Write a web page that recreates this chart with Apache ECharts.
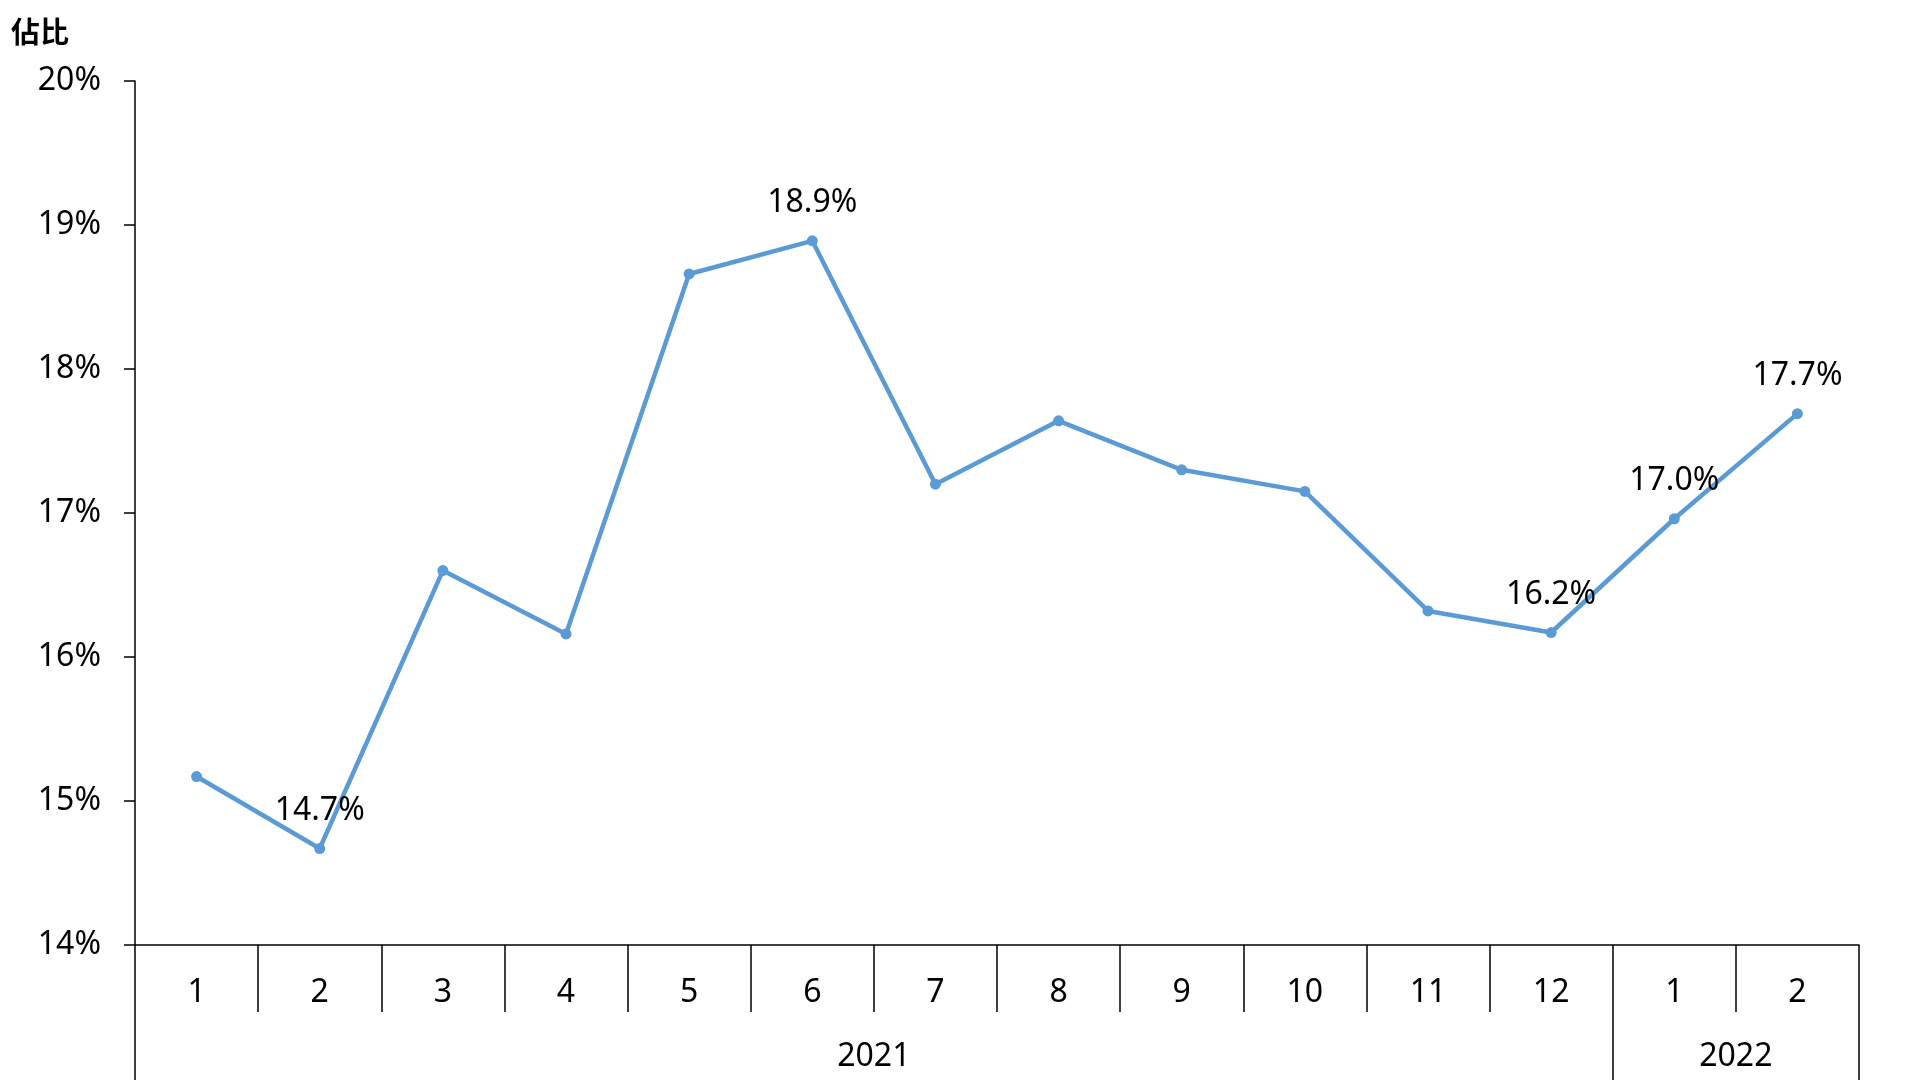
<!DOCTYPE html>
<html>
<head>
<meta charset="utf-8">
<script src="https://cdn.jsdelivr.net/npm/echarts@6/dist/echarts.min.js"></script>
<style>html,body{margin:0;padding:0;background:#fff}#c{width:1920px;height:1080px}</style>
</head>
<body>
<div id="c"></div>
<script>
var months = ['1','2','3','4','5','6','7','8','9','10','11','12','1','2'];
var values = [15.17, 14.67, 16.60, 16.16, 18.66, 18.89, 17.20, 17.64, 17.30, 17.15, 16.32, 16.17, 16.96, 17.69];
var labeledIdx = [1, 5, 11, 12, 13];
var years = ['2021', '2022'];
var monthsPerYear = [12, 2];
var yTicks = [14, 15, 16, 17, 18, 19, 20];
var yTitle = '佔比';

var FONT = '"Noto Sans", "Noto Sans CJK TC", sans-serif';
var CJK = '"Noto Sans CJK TC", "Noto Sans", sans-serif';
var FS = 32;

// year axis: boundary points (0..N), label at group midpoint, ticks at group boundaries
var yearAxisData = [];
var yearTickIdx = {0: true};
var total = 0;
for (var i = 0; i <= months.length; i++) yearAxisData.push('');
monthsPerYear.forEach(function (n, k) {
  var mid = total + n / 2;
  yearAxisData[Math.round(mid)] = years[k];
  total += n;
  yearTickIdx[total] = true;
});

var seriesData = values.map(function (v, i) {
  return {
    value: v,
    label: { show: labeledIdx.indexOf(i) >= 0 }
  };
});

var chart = echarts.init(document.getElementById('c'));
chart.setOption({
  animation: false,
  textStyle: { fontFamily: FONT },
  title: {
    text: yTitle,
    left: 6, top: 12,
    textStyle: { fontFamily: CJK, fontSize: 29, fontWeight: 'bold', color: '#000' }
  },
  grid: { left: 135, right: 61, top: 81, bottom: 135 },
  xAxis: [{
    type: 'category',
    data: months,
    boundaryGap: true,
    axisLine: { lineStyle: { color: '#000', width: 1.5 } },
    axisTick: { show: true, length: 67, lineStyle: { color: '#000', width: 1.5 } },
    axisLabel: { margin: 32, fontSize: FS, color: '#000', fontFamily: FONT, interval: 0 }
  }, {
    type: 'category',
    data: yearAxisData,
    boundaryGap: false,
    position: 'bottom',
    axisLine: { show: false },
    axisTick: {
      show: true, length: 140,
      interval: function (idx) { return !!yearTickIdx[idx]; },
      lineStyle: { color: '#000', width: 1.5 }
    },
    axisLabel: { margin: 96, fontSize: FS, color: '#000', fontFamily: FONT, interval: 0 }
  }],
  yAxis: {
    type: 'value',
    min: yTicks[0], max: yTicks[yTicks.length - 1], interval: 1,
    axisLine: { show: true, lineStyle: { color: '#000', width: 1.5 } },
    axisTick: { show: true, length: 11, lineStyle: { color: '#000', width: 1.5 } },
    splitLine: { show: false },
    axisLabel: { formatter: '{value}%', margin: 34, fontSize: FS, color: '#000', fontFamily: FONT, padding: [4, 0, 0, 0] }
  },
  series: [{
    type: 'line',
    data: seriesData,
    symbol: 'circle',
    symbolSize: 11,
    lineStyle: { color: '#5B9BD5', width: 4.5 },
    itemStyle: { color: '#5B9BD5' },
    label: {
      position: 'top', distance: 16, fontSize: FS, color: '#000', fontFamily: FONT,
      formatter: function (p) { return p.value.toFixed(1) + '%'; }
    }
  }]
});
</script>
</body>
</html>
